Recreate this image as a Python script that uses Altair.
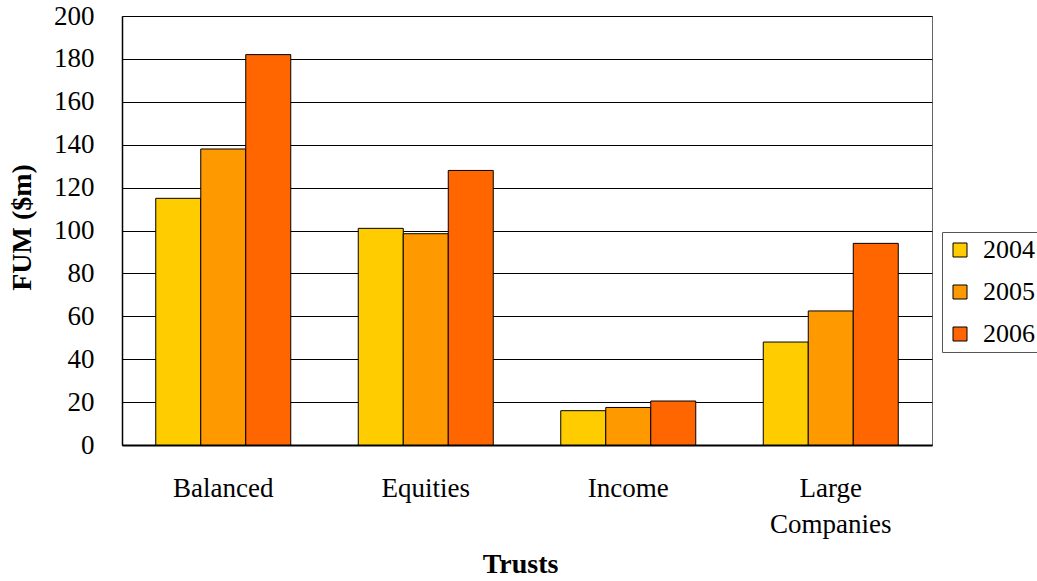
import altair as alt
import pandas as pd

# Funds under management by trust, in $m
trusts = ["Balanced", "Equities", "Income", "Large Companies"]
years = ["2004", "2005", "2006"]
fum_2004 = [115, 101, 16, 48]
fum_2005 = [138, 98.5, 17.5, 62.5]
fum_2006 = [182, 128, 20.5, 94]
colors = ["#FFCC00", "#FF9900", "#FF6600"]

rows = []
for series, year in zip([fum_2004, fum_2005, fum_2006], years):
    for trust, value in zip(trusts, series):
        rows.append({"trust": trust, "year": year, "fum": value})
df = pd.DataFrame(rows)

FONT = "Liberation Serif, Times New Roman, serif"

bars = alt.Chart(df).mark_bar(stroke="black", strokeWidth=1).encode(
    x=alt.X(
        "trust:N",
        sort=trusts,
        scale=alt.Scale(paddingInner=1 / 3, paddingOuter=1 / 6),
        axis=alt.Axis(
            title="Trusts",
            titleFont=FONT,
            titleFontSize=28,
            titleFontWeight="bold",
            titleColor="black",
            titleBaseline="alphabetic",
            titleX=398,
            titleY=127,
            labelFont=FONT,
            labelFontSize=27,
            labelColor="black",
            labelAngle=0,
            labelBaseline="top",
            labelPadding=30,
            labelLineHeight=36,
            labelExpr="split(datum.label, ' ')",
            ticks=False,
            tickSize=0,
            domainColor="black",
            domainWidth=2,
            grid=False,
        ),
    ),
    xOffset=alt.XOffset(
        "year:N", sort=years, scale=alt.Scale(paddingInner=0, paddingOuter=0)
    ),
    y=alt.Y(
        "fum:Q",
        scale=alt.Scale(domain=[0, 200], nice=False),
        axis=alt.Axis(
            title="FUM ($m)",
            titleFont=FONT,
            titleFontSize=28,
            titleFontWeight="bold",
            titleColor="black",
            titleAngle=270,
            titleBaseline="middle",
            titleX=-100,
            titleY=211,
            values=list(range(0, 201, 20)),
            labelFont=FONT,
            labelFontSize=27,
            labelColor="black",
            labelPadding=28,
            ticks=False,
            tickSize=0,
            domainColor="black",
            domainWidth=1.5,
            grid=True,
            gridColor="black",
            gridWidth=1,
        ),
    ),
    color=alt.Color(
        "year:N",
        sort=years,
        scale=alt.Scale(domain=years, range=colors),
        legend=alt.Legend(
            title=None,
            orient="none",
            legendX=820,
            legendY=216,
            symbolType="square",
            symbolSize=196,
            symbolStrokeColor="black",
            symbolStrokeWidth=1,
            labelFont=FONT,
            labelFontSize=26,
            labelColor="black",
            labelOffset=10,
            rowPadding=16,
            padding=5,
            strokeColor="#555555",
            fillColor="white",
        ),
    ),
)

chart = bars.properties(
    width=810,
    height=429,
    padding={"left": 122, "top": 16, "right": 105, "bottom": 136},
    autosize=alt.AutoSizeParams(type="none"),
    background="white",
).configure_view(stroke="#666666", strokeWidth=1)

chart.save("out.html", embed_options={"renderer": "svg", "actions": False})
